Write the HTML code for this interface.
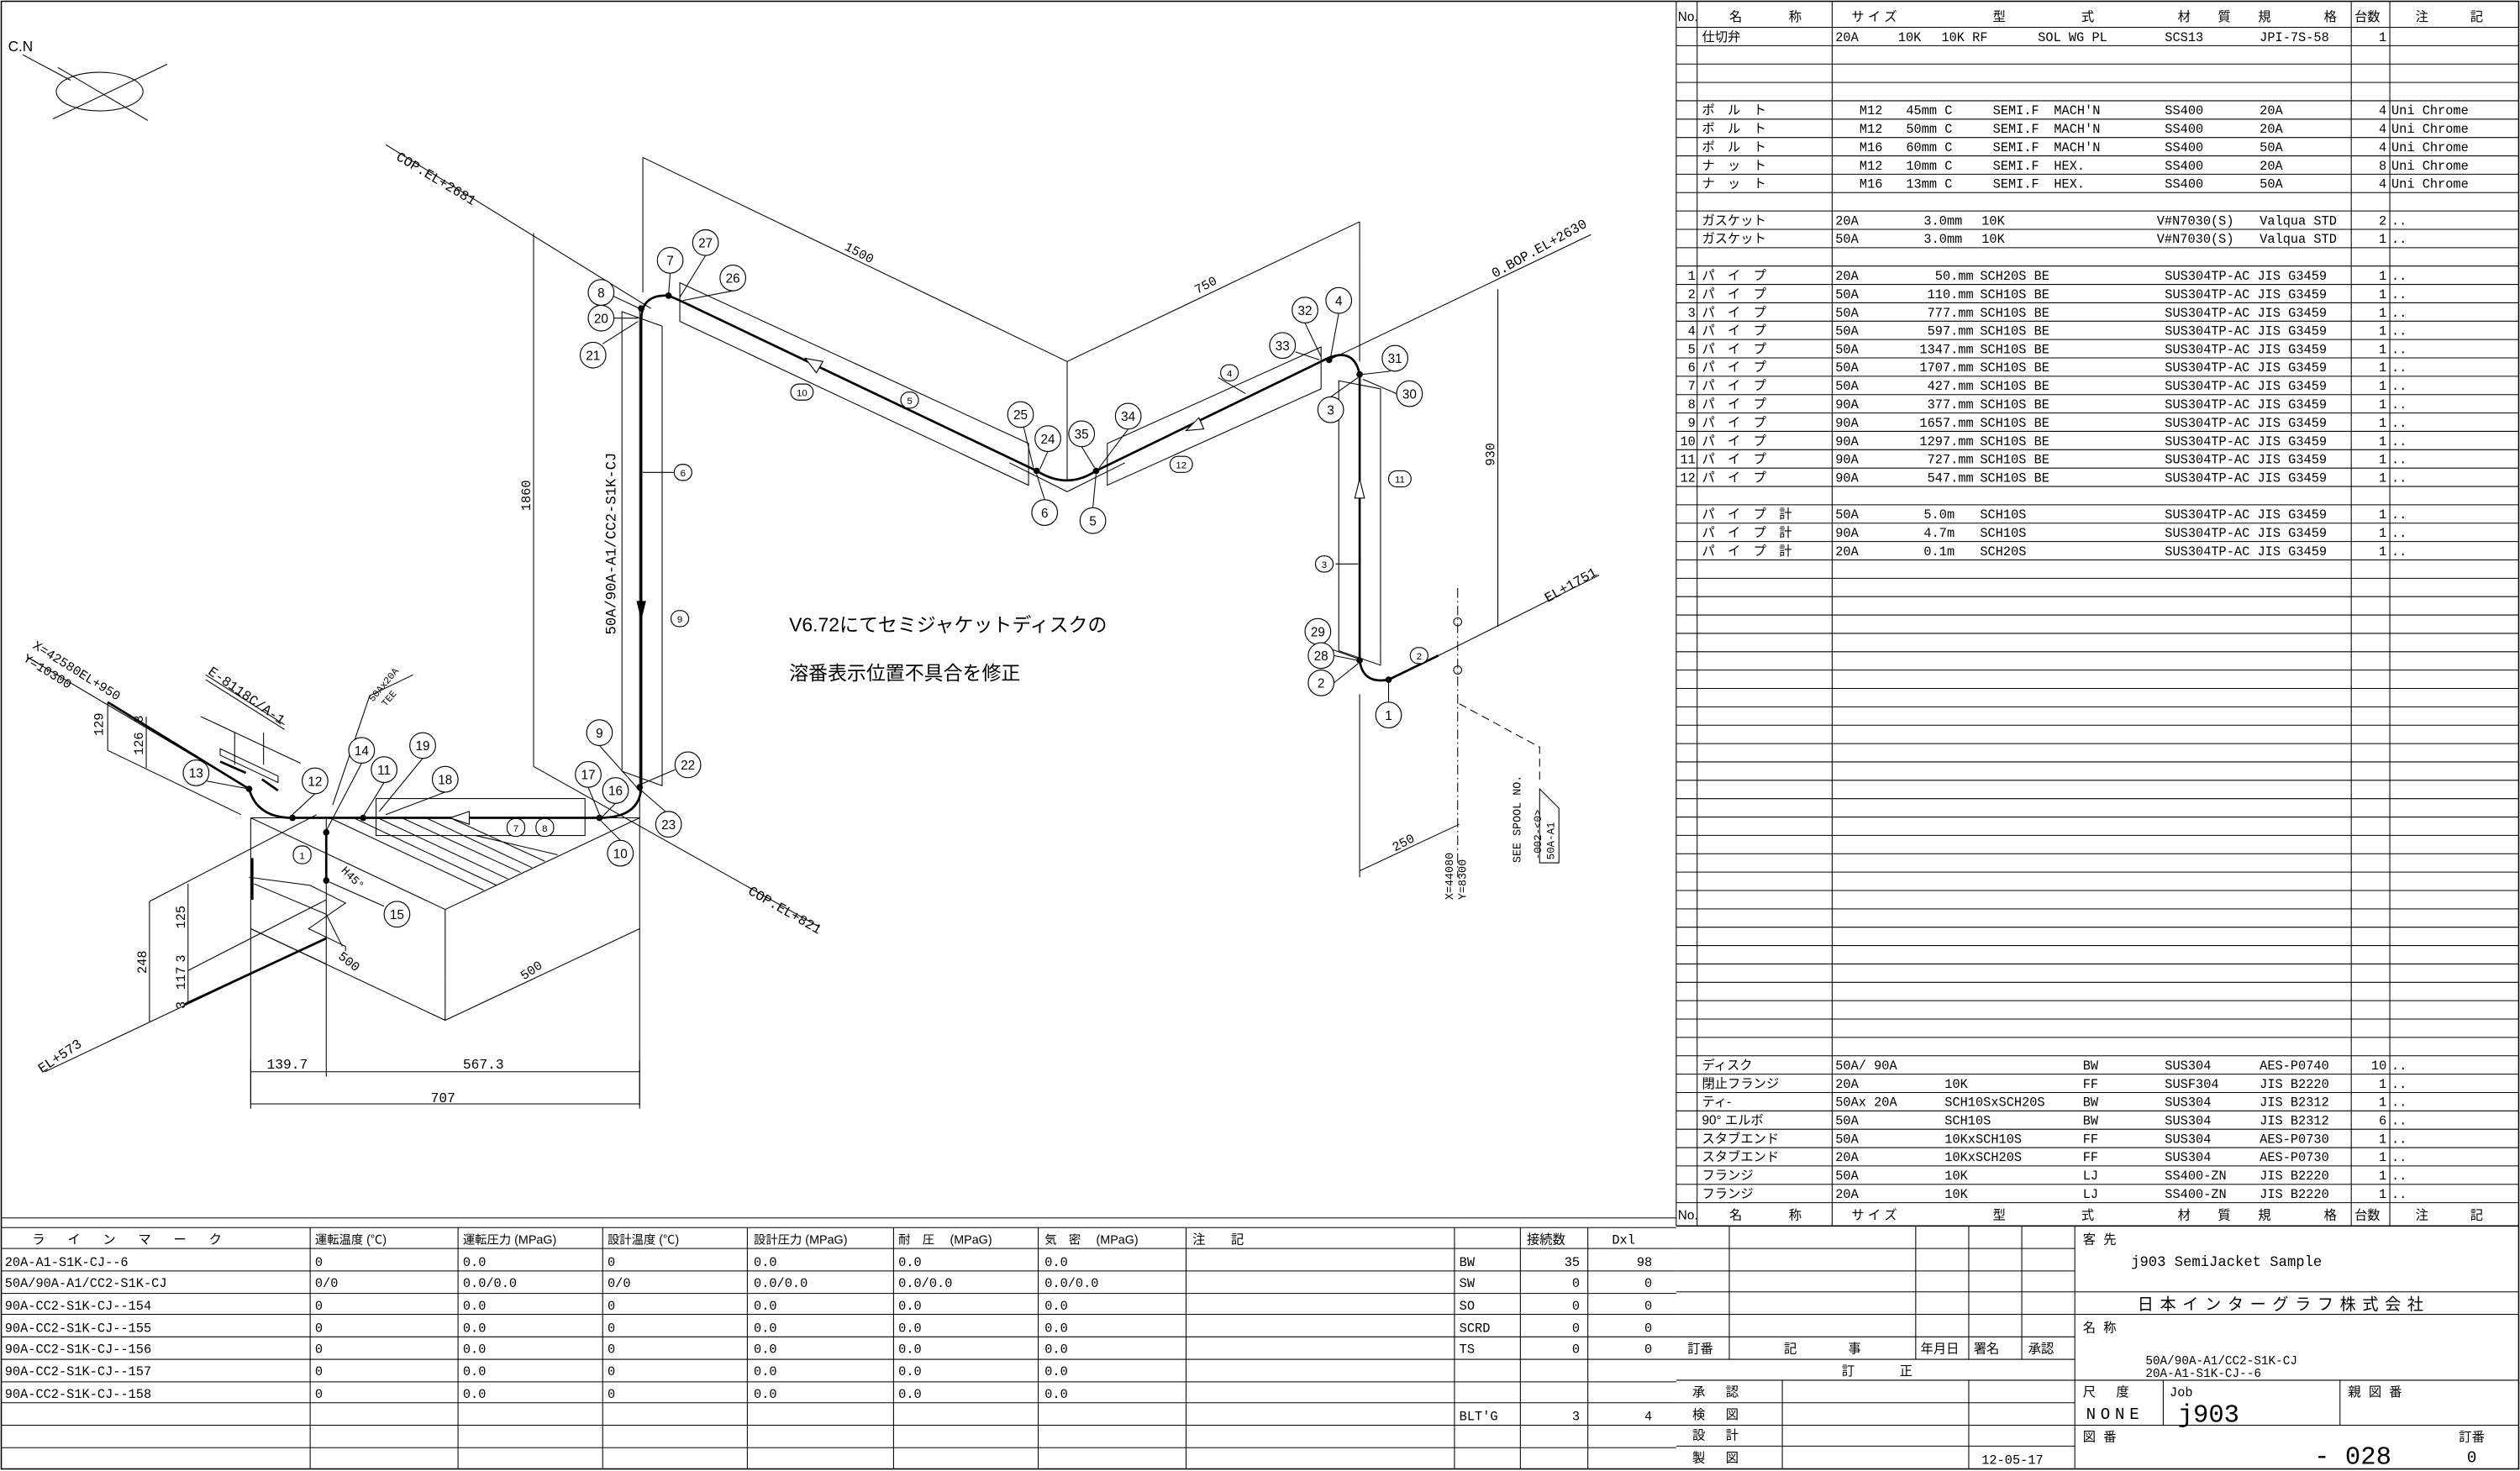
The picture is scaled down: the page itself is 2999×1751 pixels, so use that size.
<!DOCTYPE html>
<html><head><meta charset="utf-8">
<style>
html,body{margin:0;padding:0;background:#fff;}
svg{display:block;}
text{font-family:"Liberation Mono","Noto Sans CJK JP",monospace;fill:#000;}
.t{font-size:8px;}
.j{font-family:"Liberation Sans","Noto Sans CJK JP",sans-serif;}
.n{font-family:"Liberation Sans","Noto Sans CJK JP",sans-serif;font-size:8px;text-anchor:middle;}
.ns{font-family:"Liberation Sans",sans-serif;font-size:6px;text-anchor:middle;}
.l{stroke:#000;stroke-width:0.55;fill:none;}
.k{stroke:#000;stroke-width:1.4;fill:none;}
.m{stroke:#000;stroke-width:0.8;fill:none;}
.c{stroke:#000;stroke-width:0.6;fill:#fff;}
.r{text-anchor:end;}
</style></head><body>
<svg width="2999" height="1751" viewBox="0 0 1568 915.5" preserveAspectRatio="none" xmlns="http://www.w3.org/2000/svg">
<rect x="0" y="0" width="1568" height="915.5" fill="#fff"/>
<rect x="0.8" y="0.8" width="1566.4" height="913.4" class="m"/>

<!-- ============ BOM TABLE ============ -->
<g class="l">
<path d="M1043,1V763 M1056,1V763 M1140,1V763 M1463,1V763 M1487,1V763"/>
<path d="M1043,17H1567 M1043,28.43H1567 M1043,39.86H1567 M1043,51.29H1567 M1043,62.72H1567 M1043,74.15H1567 M1043,85.58H1567 M1043,97.01H1567 M1043,108.44H1567 M1043,119.87H1567 M1043,131.3H1567 M1043,142.73H1567 M1043,154.16H1567 M1043,165.59H1567 M1043,177.02H1567 M1043,188.45H1567 M1043,199.88H1567 M1043,211.31H1567 M1043,222.74H1567 M1043,234.17H1567 M1043,245.6H1567 M1043,257.03H1567 M1043,268.46H1567 M1043,279.89H1567 M1043,291.32H1567 M1043,302.75H1567 M1043,314.18H1567 M1043,325.61H1567 M1043,337.04H1567 M1043,348.47H1567 M1043,359.9H1567 M1043,371.33H1567 M1043,382.76H1567 M1043,394.19H1567 M1043,405.62H1567 M1043,417.05H1567 M1043,428.48H1567 M1043,439.91H1567 M1043,451.34H1567 M1043,462.77H1567 M1043,474.2H1567 M1043,485.63H1567 M1043,497.06H1567 M1043,508.49H1567 M1043,519.92H1567 M1043,531.35H1567 M1043,542.78H1567 M1043,554.21H1567 M1043,565.64H1567 M1043,577.07H1567 M1043,588.5H1567 M1043,599.93H1567 M1043,611.36H1567 M1043,622.79H1567 M1043,634.22H1567 M1043,645.65H1567 M1043,657.08H1567 M1043,668.51H1567 M1043,679.94H1567 M1043,691.37H1567 M1043,702.8H1567 M1043,714.23H1567 M1043,725.66H1567 M1043,737.09H1567 M1043,748.52H1567"/>
</g>
<path d="M1043,763H1567" class="m"/>
<g class="t">
<text x="1044" y="13" class="j">No.</text><text x="1076" y="13" class="j">名</text><text x="1113" y="13" class="j">称</text>
<text x="1152" y="13" class="j">サ イ ズ</text><text x="1240" y="13" class="j">型</text><text x="1295" y="13" class="j">式</text>
<text x="1355" y="13" class="j">材</text><text x="1380" y="13" class="j">質</text><text x="1405" y="13" class="j">規</text><text x="1446" y="13" class="j">格</text>
<text x="1465" y="13" class="j">台数</text><text x="1503" y="13" class="j">注</text><text x="1537" y="13" class="j">記</text>

<text x="1059" y="25.5" class="j">仕切弁</text><text x="1142" y="25.5">20A</text><text x="1181" y="25.5">10K</text><text x="1208" y="25.5">10K RF</text><text x="1268" y="25.5">SOL WG PL</text><text x="1347" y="25.5">SCS13</text><text x="1406" y="25.5">JPI-7S-58</text><text x="1485" y="25.5" class="r">1</text>

<text x="1059" y="71.2" class="j">ボ　ル　ト</text><text x="1157" y="71.2">M12</text><text x="1186" y="71.2">45mm C</text><text x="1240" y="71.2">SEMI.F</text><text x="1278" y="71.2">MACH'N</text><text x="1347" y="71.2">SS400</text><text x="1406" y="71.2">20A</text><text x="1485" y="71.2" class="r">4</text><text x="1488" y="71.2">Uni Chrome</text>
<text x="1059" y="82.7" class="j">ボ　ル　ト</text><text x="1157" y="82.7">M12</text><text x="1186" y="82.7">50mm C</text><text x="1240" y="82.7">SEMI.F</text><text x="1278" y="82.7">MACH'N</text><text x="1347" y="82.7">SS400</text><text x="1406" y="82.7">20A</text><text x="1485" y="82.7" class="r">4</text><text x="1488" y="82.7">Uni Chrome</text>
<text x="1059" y="94.1" class="j">ボ　ル　ト</text><text x="1157" y="94.1">M16</text><text x="1186" y="94.1">60mm C</text><text x="1240" y="94.1">SEMI.F</text><text x="1278" y="94.1">MACH'N</text><text x="1347" y="94.1">SS400</text><text x="1406" y="94.1">50A</text><text x="1485" y="94.1" class="r">4</text><text x="1488" y="94.1">Uni Chrome</text>
<text x="1059" y="105.5" class="j">ナ　ッ　ト</text><text x="1157" y="105.5">M12</text><text x="1186" y="105.5">10mm C</text><text x="1240" y="105.5">SEMI.F</text><text x="1278" y="105.5">HEX.</text><text x="1347" y="105.5">SS400</text><text x="1406" y="105.5">20A</text><text x="1485" y="105.5" class="r">8</text><text x="1488" y="105.5">Uni Chrome</text>
<text x="1059" y="116.9" class="j">ナ　ッ　ト</text><text x="1157" y="116.9">M16</text><text x="1186" y="116.9">13mm C</text><text x="1240" y="116.9">SEMI.F</text><text x="1278" y="116.9">HEX.</text><text x="1347" y="116.9">SS400</text><text x="1406" y="116.9">50A</text><text x="1485" y="116.9" class="r">4</text><text x="1488" y="116.9">Uni Chrome</text>

<text x="1059" y="139.8" class="j">ガスケット</text><text x="1142" y="139.8">20A</text><text x="1197" y="139.8">3.0mm</text><text x="1233" y="139.8">10K</text><text x="1342" y="139.8">V#N7030(S)</text><text x="1406" y="139.8">Valqua STD</text><text x="1485" y="139.8" class="r">2</text><text x="1488" y="139.8">..</text>
<text x="1059" y="151.2" class="j">ガスケット</text><text x="1142" y="151.2">50A</text><text x="1197" y="151.2">3.0mm</text><text x="1233" y="151.2">10K</text><text x="1342" y="151.2">V#N7030(S)</text><text x="1406" y="151.2">Valqua STD</text><text x="1485" y="151.2" class="r">1</text><text x="1488" y="151.2">..</text>
</g>
<g class="t">
<text x="1055" y="174.1" class="r">1</text><text x="1059" y="174.1" class="j">パ　イ　プ</text><text x="1142" y="174.1">20A</text><text x="1228" y="174.1" class="r">50.mm</text><text x="1232" y="174.1">SCH20S BE</text><text x="1347" y="174.1">SUS304TP-AC JIS G3459</text><text x="1485" y="174.1" class="r">1</text><text x="1488" y="174.1">..</text>
<text x="1055" y="185.5" class="r">2</text><text x="1059" y="185.5" class="j">パ　イ　プ</text><text x="1142" y="185.5">50A</text><text x="1228" y="185.5" class="r">110.mm</text><text x="1232" y="185.5">SCH10S BE</text><text x="1347" y="185.5">SUS304TP-AC JIS G3459</text><text x="1485" y="185.5" class="r">1</text><text x="1488" y="185.5">..</text>
<text x="1055" y="197" class="r">3</text><text x="1059" y="197" class="j">パ　イ　プ</text><text x="1142" y="197">50A</text><text x="1228" y="197" class="r">777.mm</text><text x="1232" y="197">SCH10S BE</text><text x="1347" y="197">SUS304TP-AC JIS G3459</text><text x="1485" y="197" class="r">1</text><text x="1488" y="197">..</text>
<text x="1055" y="208.4" class="r">4</text><text x="1059" y="208.4" class="j">パ　イ　プ</text><text x="1142" y="208.4">50A</text><text x="1228" y="208.4" class="r">597.mm</text><text x="1232" y="208.4">SCH10S BE</text><text x="1347" y="208.4">SUS304TP-AC JIS G3459</text><text x="1485" y="208.4" class="r">1</text><text x="1488" y="208.4">..</text>
<text x="1055" y="219.8" class="r">5</text><text x="1059" y="219.8" class="j">パ　イ　プ</text><text x="1142" y="219.8">50A</text><text x="1228" y="219.8" class="r">1347.mm</text><text x="1232" y="219.8">SCH10S BE</text><text x="1347" y="219.8">SUS304TP-AC JIS G3459</text><text x="1485" y="219.8" class="r">1</text><text x="1488" y="219.8">..</text>
<text x="1055" y="231.2" class="r">6</text><text x="1059" y="231.2" class="j">パ　イ　プ</text><text x="1142" y="231.2">50A</text><text x="1228" y="231.2" class="r">1707.mm</text><text x="1232" y="231.2">SCH10S BE</text><text x="1347" y="231.2">SUS304TP-AC JIS G3459</text><text x="1485" y="231.2" class="r">1</text><text x="1488" y="231.2">..</text>
<text x="1055" y="242.7" class="r">7</text><text x="1059" y="242.7" class="j">パ　イ　プ</text><text x="1142" y="242.7">50A</text><text x="1228" y="242.7" class="r">427.mm</text><text x="1232" y="242.7">SCH10S BE</text><text x="1347" y="242.7">SUS304TP-AC JIS G3459</text><text x="1485" y="242.7" class="r">1</text><text x="1488" y="242.7">..</text>
<text x="1055" y="254.1" class="r">8</text><text x="1059" y="254.1" class="j">パ　イ　プ</text><text x="1142" y="254.1">90A</text><text x="1228" y="254.1" class="r">377.mm</text><text x="1232" y="254.1">SCH10S BE</text><text x="1347" y="254.1">SUS304TP-AC JIS G3459</text><text x="1485" y="254.1" class="r">1</text><text x="1488" y="254.1">..</text>
<text x="1055" y="265.5" class="r">9</text><text x="1059" y="265.5" class="j">パ　イ　プ</text><text x="1142" y="265.5">90A</text><text x="1228" y="265.5" class="r">1657.mm</text><text x="1232" y="265.5">SCH10S BE</text><text x="1347" y="265.5">SUS304TP-AC JIS G3459</text><text x="1485" y="265.5" class="r">1</text><text x="1488" y="265.5">..</text>
<text x="1055" y="277" class="r">10</text><text x="1059" y="277" class="j">パ　イ　プ</text><text x="1142" y="277">90A</text><text x="1228" y="277" class="r">1297.mm</text><text x="1232" y="277">SCH10S BE</text><text x="1347" y="277">SUS304TP-AC JIS G3459</text><text x="1485" y="277" class="r">1</text><text x="1488" y="277">..</text>
<text x="1055" y="288.4" class="r">11</text><text x="1059" y="288.4" class="j">パ　イ　プ</text><text x="1142" y="288.4">90A</text><text x="1228" y="288.4" class="r">727.mm</text><text x="1232" y="288.4">SCH10S BE</text><text x="1347" y="288.4">SUS304TP-AC JIS G3459</text><text x="1485" y="288.4" class="r">1</text><text x="1488" y="288.4">..</text>
<text x="1055" y="299.8" class="r">12</text><text x="1059" y="299.8" class="j">パ　イ　プ</text><text x="1142" y="299.8">90A</text><text x="1228" y="299.8" class="r">547.mm</text><text x="1232" y="299.8">SCH10S BE</text><text x="1347" y="299.8">SUS304TP-AC JIS G3459</text><text x="1485" y="299.8" class="r">1</text><text x="1488" y="299.8">..</text>

<text x="1059" y="322.7" class="j">パ　イ　プ　計</text><text x="1142" y="322.7">50A</text><text x="1197" y="322.7">5.0m</text><text x="1232" y="322.7">SCH10S</text><text x="1347" y="322.7">SUS304TP-AC JIS G3459</text><text x="1485" y="322.7" class="r">1</text><text x="1488" y="322.7">..</text>
<text x="1059" y="334.1" class="j">パ　イ　プ　計</text><text x="1142" y="334.1">90A</text><text x="1197" y="334.1">4.7m</text><text x="1232" y="334.1">SCH10S</text><text x="1347" y="334.1">SUS304TP-AC JIS G3459</text><text x="1485" y="334.1" class="r">1</text><text x="1488" y="334.1">..</text>
<text x="1059" y="345.5" class="j">パ　イ　プ　計</text><text x="1142" y="345.5">20A</text><text x="1197" y="345.5">0.1m</text><text x="1232" y="345.5">SCH20S</text><text x="1347" y="345.5">SUS304TP-AC JIS G3459</text><text x="1485" y="345.5" class="r">1</text><text x="1488" y="345.5">..</text>

<text x="1059" y="665.6" class="j">ディスク</text><text x="1142" y="665.6">50A/ 90A</text><text x="1296" y="665.6">BW</text><text x="1347" y="665.6">SUS304</text><text x="1406" y="665.6">AES-P0740</text><text x="1485" y="665.6" class="r">10</text><text x="1488" y="665.6">..</text>
<text x="1059" y="677" class="j">閉止フランジ</text><text x="1142" y="677">20A</text><text x="1210" y="677">10K</text><text x="1296" y="677">FF</text><text x="1347" y="677">SUSF304</text><text x="1406" y="677">JIS B2220</text><text x="1485" y="677" class="r">1</text><text x="1488" y="677">..</text>
<text x="1059" y="688.4" class="j">ティ-</text><text x="1142" y="688.4">50Ax 20A</text><text x="1210" y="688.4">SCH10SxSCH20S</text><text x="1296" y="688.4">BW</text><text x="1347" y="688.4">SUS304</text><text x="1406" y="688.4">JIS B2312</text><text x="1485" y="688.4" class="r">1</text><text x="1488" y="688.4">..</text>
<text x="1059" y="699.9" class="j">90° エルボ</text><text x="1142" y="699.9">50A</text><text x="1210" y="699.9">SCH10S</text><text x="1296" y="699.9">BW</text><text x="1347" y="699.9">SUS304</text><text x="1406" y="699.9">JIS B2312</text><text x="1485" y="699.9" class="r">6</text><text x="1488" y="699.9">..</text>
<text x="1059" y="711.3" class="j">スタブエンド</text><text x="1142" y="711.3">50A</text><text x="1210" y="711.3">10KxSCH10S</text><text x="1296" y="711.3">FF</text><text x="1347" y="711.3">SUS304</text><text x="1406" y="711.3">AES-P0730</text><text x="1485" y="711.3" class="r">1</text><text x="1488" y="711.3">..</text>
<text x="1059" y="722.7" class="j">スタブエンド</text><text x="1142" y="722.7">20A</text><text x="1210" y="722.7">10KxSCH20S</text><text x="1296" y="722.7">FF</text><text x="1347" y="722.7">SUS304</text><text x="1406" y="722.7">AES-P0730</text><text x="1485" y="722.7" class="r">1</text><text x="1488" y="722.7">..</text>
<text x="1059" y="734.2" class="j">フランジ</text><text x="1142" y="734.2">50A</text><text x="1210" y="734.2">10K</text><text x="1296" y="734.2">LJ</text><text x="1347" y="734.2">SS400-ZN</text><text x="1406" y="734.2">JIS B2220</text><text x="1485" y="734.2" class="r">1</text><text x="1488" y="734.2">..</text>
<text x="1059" y="745.6" class="j">フランジ</text><text x="1142" y="745.6">20A</text><text x="1210" y="745.6">10K</text><text x="1296" y="745.6">LJ</text><text x="1347" y="745.6">SS400-ZN</text><text x="1406" y="745.6">JIS B2220</text><text x="1485" y="745.6" class="r">1</text><text x="1488" y="745.6">..</text>

<text x="1044" y="759" class="j">No.</text><text x="1076" y="759" class="j">名</text><text x="1113" y="759" class="j">称</text>
<text x="1152" y="759" class="j">サ イ ズ</text><text x="1240" y="759" class="j">型</text><text x="1295" y="759" class="j">式</text>
<text x="1355" y="759" class="j">材</text><text x="1380" y="759" class="j">質</text><text x="1405" y="759" class="j">規</text><text x="1446" y="759" class="j">格</text>
<text x="1465" y="759" class="j">台数</text><text x="1503" y="759" class="j">注</text><text x="1537" y="759" class="j">記</text>
</g>

<!-- ============ TITLE BLOCK ============ -->
<g class="l">
<path d="M1043,777H1291 M1043,791H1291 M1043,804H1567 M1043,818H1567 M1043,832H1291 M1043,846H1291 M1043,859H1567 M1043,873H1291 M1043,887H1567 M1043,900H1291"/>
<path d="M1076,763V846 M1192,763V846 M1225,763V846 M1258,763V846 M1291,763V914 M1109,859V914 M1225,859V914 M1346,859V887 M1456,859V887"/>
</g>
<g class="t j">
<text x="1296" y="774">客 先</text>
<text x="1326" y="788" style="font-size:9px">j903 SemiJacket Sample</text>
<text x="1330" y="815" style="font-size:10px;letter-spacing:4px">日本インターグラフ株式会社</text>
<text x="1296" y="829">名 称</text>
<text x="1335" y="849" style="font-size:7.5px">50A/90A-A1/CC2-S1K-CJ</text>
<text x="1335" y="857" style="font-size:7.5px">20A-A1-S1K-CJ--6</text>
<text x="1296" y="869">尺　 度</text>
<text x="1298" y="883" style="font-size:10px;letter-spacing:3px">NONE</text>
<text x="1350" y="869">Job</text>
<text x="1355" y="885" style="font-size:16px">j903</text>
<text x="1461" y="869">親 図 番</text>
<text x="1296" y="897">図 番</text>
<text x="1530" y="897">訂番</text>
<text x="1440" y="911" style="font-size:16px">- 028</text>
<text x="1535" y="910" style="font-size:10px">0</text>
<text x="1050" y="842">訂番</text><text x="1110" y="842">記</text><text x="1150" y="842">事</text>
<text x="1195" y="842">年月日</text><text x="1228" y="842">署名</text><text x="1262" y="842">承認</text>
<text x="1146" y="856">訂</text><text x="1182" y="856">正</text>
<text x="1053" y="869">承　 認</text><text x="1053" y="883">検　 図</text><text x="1053" y="896">設　 計</text><text x="1053" y="910">製　 図</text>
<text x="1233" y="911">12-05-17</text>
</g>

<!-- ============ BOTTOM TABLE ============ -->
<g class="l">
<path d="M1,758H1043"/>
<path d="M1,764H1043 M1,777H1043 M1,791H1043 M1,805H1043 M1,818H1043 M1,832H1043 M1,846H1043 M1,860H1043 M1,873H1043 M1,887H1043 M1,901H1043"/>
<path d="M193,764V914 M285,764V914 M375,764V914 M465,764V914 M556,764V914 M646,764V914 M738,764V914 M905,764V914 M946,764V914 M988,764V914"/>
</g>
<g class="t">
<text x="20" y="774" class="j" style="letter-spacing:14px">ラインマーク</text>
<text x="196" y="774" class="j" style="font-size:7.5px">運転温度 (℃)</text>
<text x="288" y="774" class="j" style="font-size:7.5px">運転圧力 (MPaG)</text>
<text x="378" y="774" class="j" style="font-size:7.5px">設計温度 (℃)</text>
<text x="469" y="774" class="j" style="font-size:7.5px">設計圧力 (MPaG)</text>
<text x="559" y="774" class="j" style="font-size:7.5px">耐　圧　 (MPaG)</text>
<text x="650" y="774" class="j" style="font-size:7.5px">気　密　 (MPaG)</text>
<text x="742" y="774" class="j">注　　記</text>
<text x="950" y="774" class="j">接続数</text><text x="1003" y="774">Dxl</text>

<text x="3" y="788">20A-A1-S1K-CJ--6</text><text x="196" y="788">0</text><text x="288" y="788">0.0</text><text x="378" y="788">0</text><text x="469" y="788">0.0</text><text x="559" y="788">0.0</text><text x="650" y="788">0.0</text>
<text x="3" y="801">50A/90A-A1/CC2-S1K-CJ</text><text x="196" y="801">0/0</text><text x="288" y="801">0.0/0.0</text><text x="378" y="801">0/0</text><text x="469" y="801">0.0/0.0</text><text x="559" y="801">0.0/0.0</text><text x="650" y="801">0.0/0.0</text>
<text x="3" y="815">90A-CC2-S1K-CJ--154</text><text x="196" y="815">0</text><text x="288" y="815">0.0</text><text x="378" y="815">0</text><text x="469" y="815">0.0</text><text x="559" y="815">0.0</text><text x="650" y="815">0.0</text>
<text x="3" y="829">90A-CC2-S1K-CJ--155</text><text x="196" y="829">0</text><text x="288" y="829">0.0</text><text x="378" y="829">0</text><text x="469" y="829">0.0</text><text x="559" y="829">0.0</text><text x="650" y="829">0.0</text>
<text x="3" y="842">90A-CC2-S1K-CJ--156</text><text x="196" y="842">0</text><text x="288" y="842">0.0</text><text x="378" y="842">0</text><text x="469" y="842">0.0</text><text x="559" y="842">0.0</text><text x="650" y="842">0.0</text>
<text x="3" y="856">90A-CC2-S1K-CJ--157</text><text x="196" y="856">0</text><text x="288" y="856">0.0</text><text x="378" y="856">0</text><text x="469" y="856">0.0</text><text x="559" y="856">0.0</text><text x="650" y="856">0.0</text>
<text x="3" y="870">90A-CC2-S1K-CJ--158</text><text x="196" y="870">0</text><text x="288" y="870">0.0</text><text x="378" y="870">0</text><text x="469" y="870">0.0</text><text x="559" y="870">0.0</text><text x="650" y="870">0.0</text>

<text x="908" y="788">BW</text><text x="983" y="788" class="r">35</text><text x="1028" y="788" class="r">98</text>
<text x="908" y="801">SW</text><text x="983" y="801" class="r">0</text><text x="1028" y="801" class="r">0</text>
<text x="908" y="815">SO</text><text x="983" y="815" class="r">0</text><text x="1028" y="815" class="r">0</text>
<text x="908" y="829">SCRD</text><text x="983" y="829" class="r">0</text><text x="1028" y="829" class="r">0</text>
<text x="908" y="842">TS</text><text x="983" y="842" class="r">0</text><text x="1028" y="842" class="r">0</text>
<text x="908" y="884">BLT'G</text><text x="983" y="884" class="r">3</text><text x="1028" y="884" class="r">4</text>
</g>

<!-- ============ DRAWING ============ -->
<text x="5" y="32" class="j" style="font-size:9px">C.N</text>
<g class="l">
<path d="M14,34 L44,50"/>
<ellipse cx="62" cy="57" rx="27" ry="12"/>
<path d="M36,42 L92,75 M33,74 L104,40"/>
</g>

<g class="l">
<path d="M240,90 L405,192"/>
<path d="M400,98 V182 M400,98 L664,225 L846,138 M664,225 V299 M846,138 V225"/>
<path d="M332,145 V477 M332,477 L510,577"/>
<path d="M827,224 L990,146 M932,180 V390 M895,408 L995,358"/>
<path d="M423,176 L640,276 L640,302 L423,200 Z"/>
<path d="M689,276 L822,216 L822,242 L689,302 Z"/>
<path d="M833,237 L859,242 V414 L833,405 Z"/>
<path d="M387,194 L412,203 V489 L387,480 Z"/>
<path d="M700,288 L664,306 L628,288"/>
<path d="M846,432 V546 M846,542 L908,513"/>
<path d="M907,366 V546" stroke-dasharray="6,2,1,2"/>
<circle cx="907" cy="387" r="2.5"/><circle cx="907" cy="417" r="2.5"/>
<path d="M908,438 L958,465 V488" stroke-dasharray="5,3"/>
<path d="M958,491 L970,503 V537 H958 Z"/>
</g>
<text transform="translate(946,537) rotate(-90)" style="font-size:7px">SEE SPOOL NO.</text>
<text transform="translate(959,535) rotate(-90)" style="font-size:6.5px">-002-&lt;0&gt;</text>
<text transform="translate(967,535) rotate(-90)" style="font-size:6.5px">50A-A1</text>
<text transform="translate(904,560) rotate(-90)" style="font-size:7px">X=44080</text>
<text transform="translate(912,560) rotate(-90)" style="font-size:7px">Y=8300</text>
<text transform="translate(868,530) rotate(-28)" style="font-size:8px">250</text>
<text transform="translate(930,290) rotate(-90)" style="font-size:8px">930</text>
<text transform="translate(330,318) rotate(-90)" style="font-size:8px">1860</text>
<text transform="translate(525,155) rotate(28)" style="font-size:8px">1500</text>
<text transform="translate(745,183) rotate(-28)" style="font-size:8px">750</text>
<text transform="translate(246,99) rotate(31)" style="font-size:8.5px">COP.EL+2681</text>
<text transform="translate(930,173) rotate(-29)" style="font-size:8.5px">0.BOP.EL+2630</text>
<text transform="translate(963,375) rotate(-29)" style="font-size:8.5px">EL+1751</text>
<text transform="translate(465,556) rotate(30)" style="font-size:8.5px">COP.EL+821</text>
<text transform="translate(383,395) rotate(-90)" style="font-size:9px">50A/90A-A1/CC2-S1K-CJ</text>

<g class="l">
<path d="M156,509 H398 M156,509 V688 M398,190 V688 M203,509 V670"/>
<path d="M156,509 L277,566 L398,509 M277,566 V635 M156,578 L277,635 L398,578"/>
<path d="M205,509 L301,554 M220,509 L309,551 M235,509 L316,547 M250,509 L324,543 M265,509 L331,540 M280,509 L339,536 M296,520 L347,532"/>
<rect x="234" y="497" width="130" height="23"/>
<path d="M17,409 L155,491 M67,437 V467 M91,446 V478 M67,467 L150,507"/>
<path d="M125,446 L187,475 M146,456 V476 M164,456 V476 M137,466 L173,483 L173,487 L137,470 Z"/>
<path d="M128,420 L177,451 M128,423 L177,454"/>
<path d="M257,420 L230,433 L207,501"/>
<path d="M155,546 L193,551 L215,562 L192,578 L215,589 V592 M158,550 L203,569 L213,589"/>
<path d="M93,561 V636 M117,550 V625 M93,561 L197,507 M117,604 L203,560 M28,667 L203,584 M156,578 L203,600"/>
<path d="M156,667 H398 M156,687 H398 M156,690 V660 M398,690 V660"/>
</g>
<g class="k">
<path d="M67,437 L155,491"/>
<path d="M157,534 V560 M203,518 V548 M115,625 L203,584"/>
<path d="M137,474 L153,481 M163,485 L173,492"/>
</g>
<text transform="translate(20,403) rotate(32)" style="font-size:8px">X=42580EL+950</text>
<text transform="translate(14,411) rotate(32)" style="font-size:8px">Y=10300</text>
<text transform="translate(129,419) rotate(35)" style="font-size:8.5px">E-8118C/A-1</text>
<text transform="translate(232,437) rotate(-50)" style="font-size:6px">50Ax20A</text>
<text transform="translate(240,440) rotate(-50)" style="font-size:6px">TEE</text>
<text transform="translate(64,458) rotate(-90)" style="font-size:8px">129</text>
<text transform="translate(89,470) rotate(-90)" style="font-size:8px">126</text>
<text transform="translate(89,450) rotate(-90)" style="font-size:8px">3</text>
<text transform="translate(91,606) rotate(-90)" style="font-size:8px">248</text>
<text transform="translate(115,578) rotate(-90)" style="font-size:8px">125</text>
<text transform="translate(115,599) rotate(-90)" style="font-size:8px">3</text>
<text transform="translate(115,616) rotate(-90)" style="font-size:8px">117</text>
<text transform="translate(115,628) rotate(-90)" style="font-size:8px">3</text>
<text transform="translate(210,596) rotate(38)" style="font-size:8px">500</text>
<text transform="translate(326,610) rotate(-34)" style="font-size:8px">500</text>
<text transform="translate(26,668) rotate(-34)" style="font-size:8.5px">EL+573</text>
<text transform="translate(212,542) rotate(45)" style="font-size:7px">H45°</text>
<text x="166" y="665" style="font-size:8.5px">139.7</text>
<text x="288" y="665" style="font-size:8.5px">567.3</text>
<text x="268" y="686" style="font-size:8.5px">707</text>

<path class="k" d="M155,491 Q160,509 182,509 L373,509 Q398,509 399,490 L399,199 Q399,183 416,184 L423,187 L645,293 Q664,305 682,293 L822,225 Q842,214 846,233 L846,411 Q848,426 864,423 L895,408"/>
<g fill="#000">
<path d="M280,509 L292,505 L292,513 Z" fill="#fff" stroke="#000" stroke-width="0.6"/>
<path d="M501,223 L512,225 L508,232 Z" fill="#fff" stroke="#000" stroke-width="0.6"/>
<path d="M738,268 L746,260 L749,267 Z" fill="#fff" stroke="#000" stroke-width="0.6"/>
<path d="M846,298 L843,310 L849,310 Z" fill="#fff" stroke="#000" stroke-width="0.6"/>
<path d="M399,386 L396,374 L402,374 Z"/>
<circle cx="155" cy="491" r="2"/><circle cx="182" cy="509" r="2"/><circle cx="226" cy="509" r="2"/><circle cx="373" cy="509" r="2"/><circle cx="398" cy="490" r="2"/>
<circle cx="399" cy="192" r="2"/><circle cx="416" cy="184" r="2"/><circle cx="645" cy="293" r="2"/><circle cx="682" cy="293" r="2"/>
<circle cx="827" cy="224" r="2"/><circle cx="846" cy="233" r="2"/><circle cx="846" cy="411" r="2"/><circle cx="864" cy="423" r="2"/>
<circle cx="203" cy="518" r="2"/><circle cx="203" cy="548" r="2"/>
</g>

<g class="l">
<path d="M128,486 L155,491 M196,494 L182,507 M225,475 L203,517 M239,487 L226,508 M263,472 L236,505 M277,493 L240,507 M366,490 L373,507 M383,500 L375,508 M373,464 L398,492 M420,479 L399,488 M414,505 L399,492 M386,523 L374,511 M239,564 L205,549"/>
<path d="M417,170 L416,183 M439,159 L423,185 M456,181 L425,187 M381,184 L398,192 M382,198 L397,198 M375,214 L397,200"/>
<path d="M637,266 L643,291 M652,281 L647,292 M673,278 L681,291 M702,267 L684,291 M650,311 L645,295 M680,316 L682,295"/>
<path d="M812,201 L822,222 M833,195 L828,222 M806,219 L821,224 M865,231 L848,233 M869,245 L848,236 M828,247 L845,235"/>
<path d="M820,401 L845,410 M830,408 L845,411 M830,425 L845,413 M864,437 L864,424 M419,294 L400,294 M758,235 L775,245 M831,351 L845,351"/>
</g>

<g>
<circle cx="122" cy="481" r="8" class="c"/><text x="122" y="484" class="n">13</text>
<circle cx="196" cy="486" r="8" class="c"/><text x="196" y="489" class="n">12</text>
<circle cx="225" cy="467" r="8" class="c"/><text x="225" y="470" class="n">14</text>
<circle cx="239" cy="479" r="8" class="c"/><text x="239" y="482" class="n">11</text>
<circle cx="263" cy="464" r="8" class="c"/><text x="263" y="467" class="n">19</text>
<circle cx="277" cy="485" r="8" class="c"/><text x="277" y="488" class="n">18</text>
<circle cx="366" cy="482" r="8" class="c"/><text x="366" y="485" class="n">17</text>
<circle cx="383" cy="492" r="8" class="c"/><text x="383" y="495" class="n">16</text>
<circle cx="373" cy="456" r="8" class="c"/><text x="373" y="459" class="n">9</text>
<circle cx="428" cy="476" r="8" class="c"/><text x="428" y="479" class="n">22</text>
<circle cx="416" cy="513" r="8" class="c"/><text x="416" y="516" class="n">23</text>
<circle cx="386" cy="531" r="8" class="c"/><text x="386" y="534" class="n">10</text>
<circle cx="247" cy="569" r="8" class="c"/><text x="247" y="572" class="n">15</text>
<circle cx="417" cy="162" r="8" class="c"/><text x="417" y="165" class="n">7</text>
<circle cx="439" cy="151" r="8" class="c"/><text x="439" y="154" class="n">27</text>
<circle cx="456" cy="173" r="8" class="c"/><text x="456" y="176" class="n">26</text>
<circle cx="374" cy="182" r="8" class="c"/><text x="374" y="185" class="n">8</text>
<circle cx="374" cy="198" r="8" class="c"/><text x="374" y="201" class="n">20</text>
<circle cx="369" cy="221" r="8" class="c"/><text x="369" y="224" class="n">21</text>
<circle cx="635" cy="258" r="8" class="c"/><text x="635" y="261" class="n">25</text>
<circle cx="652" cy="273" r="8" class="c"/><text x="652" y="276" class="n">24</text>
<circle cx="673" cy="270" r="8" class="c"/><text x="673" y="273" class="n">35</text>
<circle cx="702" cy="259" r="8" class="c"/><text x="702" y="262" class="n">34</text>
<circle cx="650" cy="319" r="8" class="c"/><text x="650" y="322" class="n">6</text>
<circle cx="680" cy="324" r="8" class="c"/><text x="680" y="327" class="n">5</text>
<circle cx="812" cy="193" r="8" class="c"/><text x="812" y="196" class="n">32</text>
<circle cx="833" cy="187" r="8" class="c"/><text x="833" y="190" class="n">4</text>
<circle cx="798" cy="215" r="8" class="c"/><text x="798" y="218" class="n">33</text>
<circle cx="868" cy="223" r="8" class="c"/><text x="868" y="226" class="n">31</text>
<circle cx="877" cy="245" r="8" class="c"/><text x="877" y="248" class="n">30</text>
<circle cx="828" cy="255" r="8" class="c"/><text x="828" y="258" class="n">3</text>
<circle cx="820" cy="393" r="8" class="c"/><text x="820" y="396" class="n">29</text>
<circle cx="822" cy="408" r="8" class="c"/><text x="822" y="411" class="n">28</text>
<circle cx="822" cy="425" r="8" class="c"/><text x="822" y="428" class="n">2</text>
<circle cx="864" cy="445" r="8" class="c"/><text x="864" y="448" class="n">1</text>
<rect x="182.5" y="526.5" width="11" height="11" rx="5" class="c"/><text x="188" y="534.5" class="ns">1</text>
<rect x="315.5" y="509.5" width="11" height="11" rx="5" class="c"/><text x="321" y="517.5" class="ns">7</text>
<rect x="333.5" y="509.5" width="11" height="11" rx="5" class="c"/><text x="339" y="517.5" class="ns">8</text>
<rect x="492" y="239" width="14" height="10" rx="5" class="c"/><text x="499" y="246.5" class="ns">10</text>
<rect x="560.5" y="244" width="11" height="10" rx="5" class="c"/><text x="566" y="251.5" class="ns">5</text>
<rect x="419.5" y="289" width="11" height="10" rx="5" class="c"/><text x="425" y="296.5" class="ns">6</text>
<rect x="417.5" y="380" width="11" height="10" rx="5" class="c"/><text x="423" y="387.5" class="ns">9</text>
<rect x="759.5" y="227" width="11" height="10" rx="5" class="c"/><text x="765" y="234.5" class="ns">4</text>
<rect x="728" y="284" width="14" height="10" rx="5" class="c"/><text x="735" y="291.5" class="ns">12</text>
<rect x="864" y="293" width="14" height="10" rx="5" class="c"/><text x="871" y="300.5" class="ns">11</text>
<rect x="818.5" y="346" width="11" height="10" rx="5" class="c"/><text x="824" y="353.5" class="ns">3</text>
<rect x="877.5" y="403" width="11" height="10" rx="5" class="c"/><text x="883" y="410.5" class="ns">2</text>
</g>

<text x="491" y="393" class="j" style="font-size:12px">V6.72にてセミジャケットディスクの</text>
<text x="491" y="423" class="j" style="font-size:12px">溶番表示位置不具合を修正</text>
</svg>
</body></html>
